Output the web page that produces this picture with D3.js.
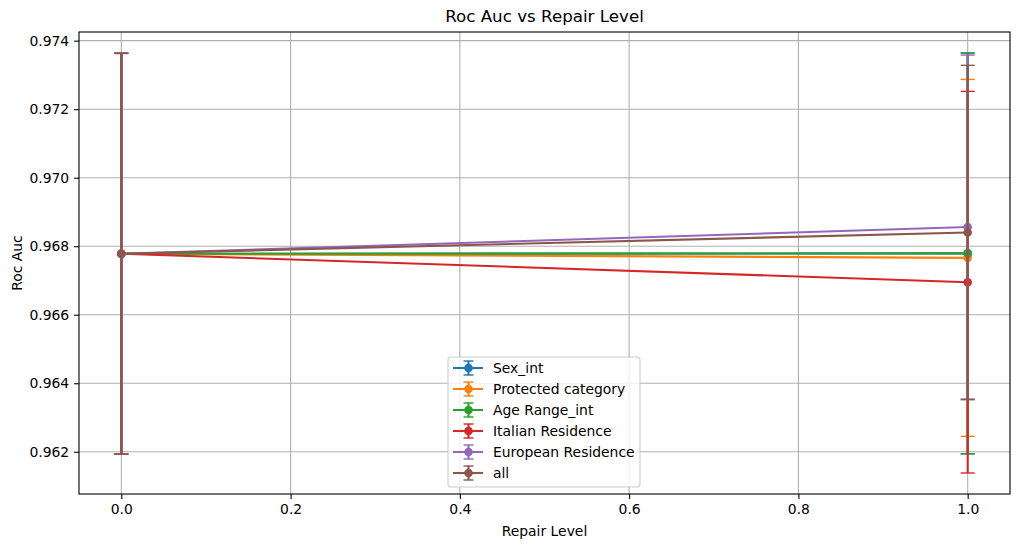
<!DOCTYPE html>
<html>
<head>
<meta charset="utf-8">
<script src="https://cdn.jsdelivr.net/npm/d3@7"></script>
<style>
  body { margin: 0; background: #fff; }
  svg text { font-family: "DejaVu Sans", sans-serif; fill: #000; }
</style>
</head>
<body>
<div id="Chart"></div>
<script>
// data
var repairLevels = [0.0, 1.0]
var seriesNames = ["Sex_int", "Protected category", "Age Range_int", "Italian Residence", "European Residence", "all"]
var sexMean = [0.96778, 0.96779],        sexStd = [0.00585, 0.00585]
var protMean = [0.96778, 0.96766],       protStd = [0.00585, 0.00521]
var ageMean = [0.96778, 0.96779],        ageStd = [0.00585, 0.00585]
var italianMean = [0.96778, 0.96695],    italianStd = [0.00585, 0.00557]
var europeanMean = [0.96778, 0.96856],   europeanStd = [0.00585, 0.00502]
var allMean = [0.96778, 0.96840],        allStd = [0.00585, 0.00488]
var xTicks = [0.0, 0.2, 0.4, 0.6, 0.8, 1.0]
var yTicks = [0.962, 0.964, 0.966, 0.968, 0.970, 0.972, 0.974]
var colors = ["#1f77b4", "#ff7f0e", "#2ca02c", "#d62728", "#9467bd", "#8c564b"]

var means = [sexMean, protMean, ageMean, italianMean, europeanMean, allMean]
var stds = [sexStd, protStd, ageStd, italianStd, europeanStd, allStd]

var series = seriesNames.map((name, i) => ({
  name: name,
  color: colors[i],
  points: repairLevels.map((x, j) => ({x: x, y: means[i][j], e: stds[i][j]}))
}))

var margin = {top: 32, right: 9, bottom: 53, left: 79},
    Width = 1019,
    Height = 547,
    width = Width - margin.left - margin.right,
    height = Height - margin.top - margin.bottom

var svg = d3.select("#Chart")
  .append("svg")
    .attr("width", Width)
    .attr("height", Height)
  .append("g")
    .attr("transform", `translate(${margin.left},${margin.top})`)

// matplotlib style 5% margins
var lo = d3.min(series, s => d3.min(s.points, p => p.y - p.e))
var hi = d3.max(series, s => d3.max(s.points, p => p.y + p.e))
var pad = (hi - lo) * 0.05
var X = d3.scaleLinear().domain([-0.05, 1.05]).range([0, width])
var Y = d3.scaleLinear().domain([lo - pad, hi + pad]).range([height, 0])

// grid
svg.append("g").selectAll("line").data(xTicks).enter().append("line")
  .attr("x1", d => X(d)).attr("x2", d => X(d))
  .attr("y1", 0).attr("y2", height)
  .attr("stroke", "#b0b0b0").attr("stroke-width", 1.1)
svg.append("g").selectAll("line").data(yTicks).enter().append("line")
  .attr("x1", 0).attr("x2", width)
  .attr("y1", d => Y(d)).attr("y2", d => Y(d))
  .attr("stroke", "#b0b0b0").attr("stroke-width", 1.1)

// axes
var xAxis = svg.append("g")
  .attr("transform", `translate(0,${height})`)
  .call(d3.axisBottom(X).tickValues(xTicks).tickFormat(d3.format(".1f")).tickSize(4.9).tickPadding(4.9))
var yAxis = svg.append("g")
  .call(d3.axisLeft(Y).tickValues(yTicks).tickFormat(d3.format(".3f")).tickSize(4.9).tickPadding(4.9))
;[xAxis, yAxis].forEach(a => {
  a.select(".domain").remove()
  a.selectAll("text").style("font-size", "13.9px").style("font-family", "DejaVu Sans")
  a.selectAll("line").attr("stroke", "#000").attr("stroke-width", 1.1)
})

// frame
svg.append("rect")
  .attr("width", width).attr("height", height)
  .attr("fill", "none").attr("stroke", "#000").attr("stroke-width", 1.1)

var line = d3.line().x(d => X(d.x)).y(d => Y(d.y))
var capW = 7

var plot = svg.append("g")
series.forEach(s => {
  var g = plot.append("g")
  g.selectAll(".bar").data(s.points).enter().append("line")
    .attr("x1", d => X(d.x)).attr("x2", d => X(d.x))
    .attr("y1", d => Y(d.y - d.e)).attr("y2", d => Y(d.y + d.e))
    .attr("stroke", s.color).attr("stroke-width", 2.1)
  s.points.forEach(d => {
    [d.y - d.e, d.y + d.e].forEach(v => {
      g.append("line")
        .attr("x1", X(d.x) - capW).attr("x2", X(d.x) + capW)
        .attr("y1", Y(v)).attr("y2", Y(v))
        .attr("stroke", s.color).attr("stroke-width", 1.4)
    })
  })
  g.append("path").datum(s.points)
    .attr("d", line).attr("fill", "none")
    .attr("stroke", s.color).attr("stroke-width", 2.1)
  g.selectAll("circle").data(s.points).enter().append("circle")
    .attr("cx", d => X(d.x)).attr("cy", d => Y(d.y)).attr("r", 4.3)
    .attr("fill", s.color)
})

// legend
var lg = svg.append("g").attr("transform", `translate(${448 - margin.left},${357 - margin.top})`)
lg.append("rect")
  .attr("width", 192).attr("height", 130).attr("rx", 3)
  .attr("fill", "#fff").attr("fill-opacity", 0.8)
  .attr("stroke", "#cccccc").attr("stroke-width", 1.1)
series.forEach((s, i) => {
  var cy = 11 + i * 21
  var item = lg.append("g").attr("transform", `translate(0,${cy})`)
  item.append("line").attr("x1", 5).attr("x2", 35).attr("y1", 0).attr("y2", 0)
    .attr("stroke", s.color).attr("stroke-width", 2.1)
  item.append("line").attr("x1", 20.5).attr("x2", 20.5).attr("y1", -7).attr("y2", 7)
    .attr("stroke", s.color).attr("stroke-width", 2.1)
  ;[-7, 7].forEach(v => item.append("line")
    .attr("x1", 15.5).attr("x2", 25.5).attr("y1", v).attr("y2", v)
    .attr("stroke", s.color).attr("stroke-width", 1.4))
  item.append("circle").attr("cx", 20.5).attr("cy", 0).attr("r", 4.3).attr("fill", s.color)
  item.append("text").attr("x", 45).attr("y", 0).attr("dy", "0.35em")
    .style("font-size", "13.9px").text(s.name)
})

// titles
svg.append("text")
  .attr("x", width / 2).attr("y", -10)
  .attr("text-anchor", "middle").style("font-size", "16.7px")
  .text("Roc Auc vs Repair Level")
svg.append("text")
  .attr("x", width / 2).attr("y", height + 42)
  .attr("text-anchor", "middle").style("font-size", "13.9px")
  .text("Repair Level")
svg.append("text")
  .attr("transform", `translate(${17 - margin.left},${height / 2}) rotate(-90)`)
  .attr("dy", "0.35em")
  .attr("text-anchor", "middle").style("font-size", "13.9px")
  .text("Roc Auc")
</script>
</body>
</html>
